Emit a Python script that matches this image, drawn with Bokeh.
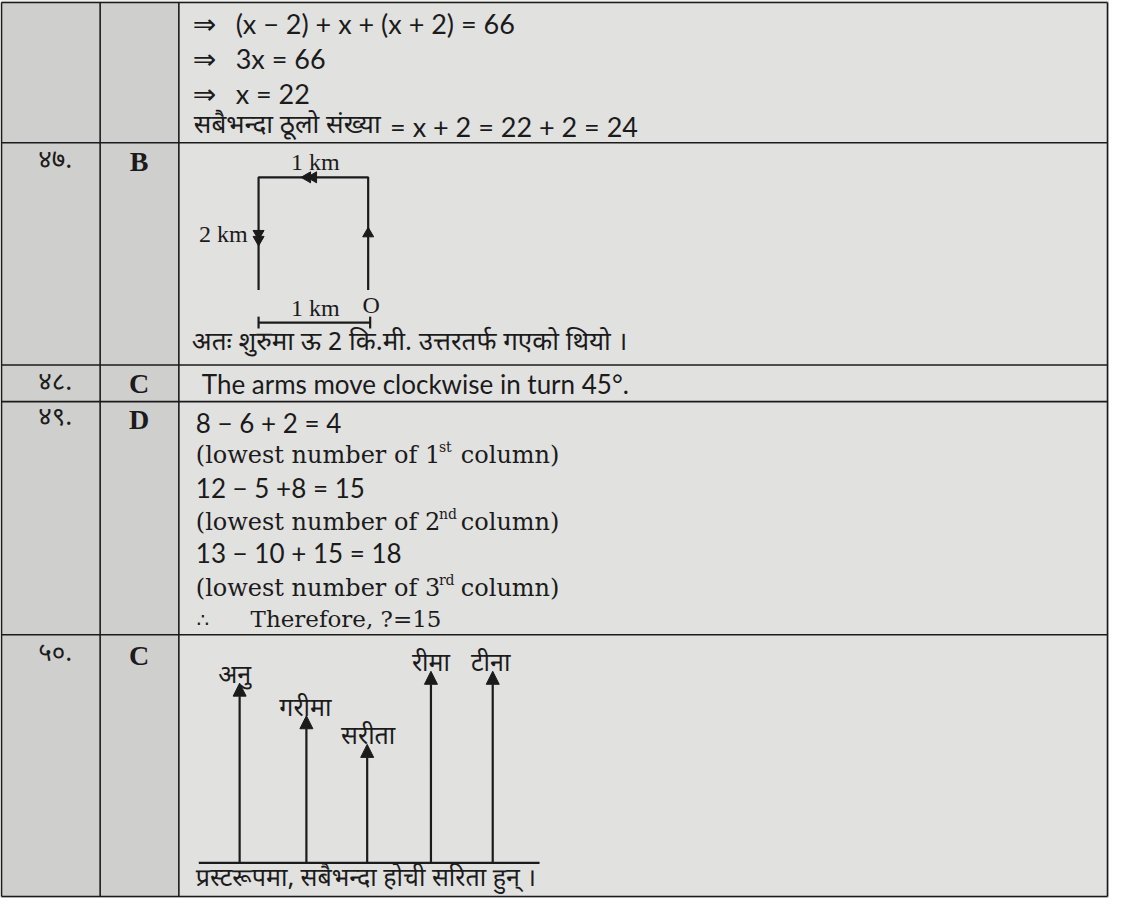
from math import pi
from bokeh.plotting import figure
from bokeh.models import Range1d, Arrow, NormalHead, ColumnDataSource
from bokeh.core.properties import value
from bokeh.embed import file_html
from bokeh.resources import INLINE

# ---------------- data ----------------
question_numbers = ["४७.", "४८.", "४९.", "५०."]
answers = ["B", "C", "D", "C"]

q46_arrows = ["⇒", "⇒", "⇒"]
q46_steps = ["(x − 2) + x + (x + 2) = 66", "3x = 66", "x = 22"]
q46_result_words = "सबैभन्दा ठूलो संख्या"
q46_result_math = "= x + 2 = 22 + 2 = 24"

q47_leg_dirs = ["N", "W", "S"]
q47_leg_km = [2, 1, 2]
q47_scale_km = 1
q47_labels = ["1 km", "2 km", "1 km", "O"]
q47_conclusion = "अतः शुरुमा ऊ 2 कि.मी. उत्तरतर्फ गएको थियो ।"

q48_text = "The arms move clockwise in turn 45°."

q49_sums = ["8 − 6 + 2 = 4", "12 − 5 +8 = 15", "13 − 10 + 15 = 18"]
q49_ordinals = ["1", "2", "3"]
q49_suffixes = ["st", "nd", "rd"]
q49_answer = "Therefore, ?=15"

q50_names = ["अनु", "गरीमा", "सरीता", "रीमा", "टीना"]
q50_heights = [182, 149, 120, 194, 194]
q50_conclusion = "प्रस्टरूपमा, सबैभन्दा होची सरिता हुन् ।"

# ---------------- layout ----------------
INK = "#1b1b1b"
PAGE = "#e1e1e0"
SHADE = "#cfcfce"
DEV = "Noto Sans Devanagari, Noto Sans, sans-serif"
SANS = "Lato"
SERIF = "Liberation Serif"
SERIF2 = "DejaVu Serif"

p = figure(width=1109, height=898, x_range=Range1d(6, 1119), y_range=Range1d(913, 4),
           toolbar_location=None, output_backend="svg", min_border=0,
           x_axis_location=None, y_axis_location=None,
           background_fill_color=PAGE, border_fill_color=PAGE)
p.grid.visible = False
p.outline_line_color = None

col_x = [7, 106, 185, 1117]
row_y = [6, 148, 373, 410, 646, 911]

# shaded first two columns
p.quad(left=[col_x[0]], right=[col_x[2]], top=[row_y[0]], bottom=[row_y[-1]],
       fill_color=SHADE, line_color=None)

# table rules
p.segment(x0=[col_x[0]] * len(row_y), x1=[col_x[-1]] * len(row_y), y0=row_y, y1=row_y,
          line_color=INK, line_width=1.6)
p.segment(x0=col_x, x1=col_x, y0=[row_y[0]] * len(col_x), y1=[row_y[-1]] * len(col_x),
          line_color=INK, line_width=1.6)

# question numbers and answers
label_y = [167, 392, 428, 667]
p.text(x=[61] * 4, y=label_y, text=question_numbers, text_font=value(DEV), text_font_size="26px",
       text_align="center", text_baseline="middle", text_color=INK)
p.text(x=[145] * 4, y=label_y, text=answers, text_font=value(SERIF), text_font_size="28px",
       text_font_style="bold", text_align="center", text_baseline="middle", text_color=INK)

# ---- row 46
p.text(x=[199] * 3, y=[28, 64, 99], text=q46_arrows, text_font=value("DejaVu Sans"),
       text_font_size="28px", text_baseline="middle", text_color=INK)
p.text(x=[242] * 3, y=[27, 63, 98], text=q46_steps, text_font=value(SANS),
       text_font_size="27px", text_baseline="middle", text_color=INK)
p.text(x=[200], y=[132], text=[q46_result_words], text_font=value(DEV),
       text_font_size="26px", text_baseline="middle", text_color=INK)
p.text(x=[397], y=[132], text=[q46_result_math], text_font=value(SANS),
       text_font_size="27px", text_baseline="middle", text_color=INK)

# ---- row 47 diagram
ox, oy = 375, 297
kx, ky = 110, 57
dirs = {"N": (0, -1), "E": (1, 0), "S": (0, 1), "W": (-1, 0)}
xs, ys = [ox], [oy]
for d, km in zip(q47_leg_dirs, q47_leg_km):
    dx, dy = dirs[d]
    xs.append(xs[-1] + dx * km * kx)
    ys.append(ys[-1] + dy * km * ky)
p.line(xs, ys, line_color=INK, line_width=2.2)

# direction arrowheads at the middle of each leg (first single, rest double)
for i in range(len(q47_leg_dirs)):
    mx = (xs[i] + xs[i + 1]) / 2
    my = (ys[i] + ys[i + 1]) / 2
    d = q47_leg_dirs[i]
    ang = {"N": 0, "W": pi / 2, "S": pi, "E": -pi / 2}[d]
    dx, dy = dirs[d]
    n = 1 if i == 0 else 2
    for j in range(n):
        p.scatter([mx + dx * 6 * j], [my + dy * 6 * j], marker="triangle", size=11, angle=ang,
                  fill_color=INK, line_color=INK)

# scale bar
sb_y = 330
sb_x0, sb_x1 = xs[-1], xs[-1] + q47_scale_km * kx + 2
p.segment(x0=[sb_x0, sb_x0, sb_x1], x1=[sb_x1, sb_x0, sb_x1], y0=[sb_y, sb_y - 6, sb_y - 6],
          y1=[sb_y, sb_y + 6, sb_y + 6], line_color=INK, line_width=2.2)

p.text(x=[322], y=[167], text=[q47_labels[0]], text_font=value(SERIF), text_font_size="24px",
       text_align="center", text_baseline="middle", text_color=INK)
p.text(x=[254], y=[240], text=[q47_labels[1]], text_font=value(SERIF), text_font_size="24px",
       text_align="right", text_baseline="middle", text_color=INK)
p.text(x=[322], y=[315], text=[q47_labels[2]], text_font=value(SERIF), text_font_size="24px",
       text_align="center", text_baseline="middle", text_color=INK)
p.text(x=[378], y=[312], text=[q47_labels[3]], text_font=value(SERIF), text_font_size="24px",
       text_align="center", text_baseline="middle", text_color=INK)
p.text(x=[198], y=[352], text=[q47_conclusion], text_font=value(DEV), text_font_size="26px",
       text_baseline="middle", text_color=INK)

# ---- row 48
p.text(x=[208], y=[392], text=[q48_text], text_font=value(SANS), text_font_size="26px",
       text_baseline="middle", text_color=INK)

# ---- row 49
sum_y = [432, 497, 563]
note_y = [464, 532, 599]
p.text(x=[202] * 3, y=sum_y, text=q49_sums, text_font=value(SANS), text_font_size="26px",
       text_baseline="middle", text_color=INK)
p.text(x=[202] * 3, y=note_y, text=["(lowest number of " + o for o in q49_ordinals],
       text_font=value(SERIF2), text_font_size="24px", text_baseline="middle", text_color=INK)
p.text(x=[446] * 3, y=[y - 8 for y in note_y], text=q49_suffixes, text_font=value(SERIF2),
       text_font_size="14px", text_baseline="middle", text_color=INK)
p.text(x=[468] * 3, y=note_y, text=["column)"] * 3, text_font=value(SERIF2),
       text_font_size="24px", text_baseline="middle", text_color=INK)
p.text(x=[203], y=[631], text=["∴"], text_font=value("DejaVu Sans"), text_font_size="20px",
       text_baseline="middle", text_color=INK)
p.text(x=[257], y=[630], text=[q49_answer], text_font=value(SERIF2), text_font_size="23px",
       text_baseline="middle", text_color=INK)

# ---- row 50 diagram
base_y = 877
arrow_x = [246, 313, 374, 438, 500]
tip_y = [base_y - h for h in q50_heights]
p.segment(x0=[205], x1=[547], y0=[base_y], y1=[base_y], line_color=INK, line_width=2.2)
src = ColumnDataSource(dict(x=arrow_x, y0=[base_y] * 5, y1=tip_y))
p.add_layout(Arrow(end=NormalHead(size=13, fill_color=INK, line_color=INK),
                   x_start="x", y_start="y0", x_end="x", y_end="y1", source=src,
                   line_color=INK, line_width=2.2))
label_dx = [-5, -1, 1, 0, -2]
p.text(x=[x + d for x, d in zip(arrow_x, label_dx)], y=[t - 6 for t in tip_y], text=q50_names,
       text_font=value(DEV), text_font_size="25px", text_align="center",
       text_baseline="alphabetic", text_color=INK)
p.text(x=[202], y=[894], text=[q50_conclusion], text_font=value(DEV), text_font_size="25px",
       text_baseline="middle", text_color=INK)

open("out.html", "w").write(file_html(p, INLINE))
